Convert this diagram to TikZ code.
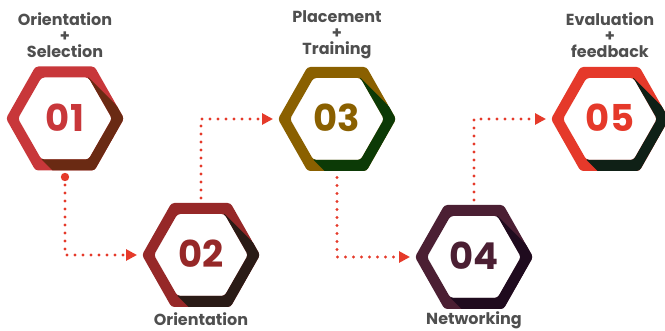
\documentclass[tikz,border=0pt]{standalone}
\usepackage{fontspec}
\setmainfont{Poppins}
\usetikzlibrary{arrows.meta}

\definecolor{ringA}{HTML}{C8373A}\definecolor{darkA}{HTML}{6A2A13}
\definecolor{ringB}{HTML}{962828}\definecolor{darkB}{HTML}{2A1B16}
\definecolor{ringC}{HTML}{8A6000}\definecolor{darkC}{HTML}{0C3A06}
\definecolor{ringD}{HTML}{4B1F33}\definecolor{darkD}{HTML}{1F0B1E}
\definecolor{ringE}{HTML}{E5392A}\definecolor{darkE}{HTML}{0F2016}
\definecolor{linkred}{HTML}{E53A2A}
\definecolor{labelgray}{HTML}{4F4F4F}

\tikzset{
  flow/.style={draw=linkred, line width=3.2pt, line cap=round,
    dash pattern=on 0pt off 8pt,
    -{Triangle[length=11pt,width=11pt,fill=linkred]}},
  steplabel/.style={align=center, text=labelgray, inner sep=0pt,
    font=\bfseries\fontsize{16}{16}\selectfont},
  stepnum/.style={inner sep=0pt, font=\bfseries\fontsize{37}{37}\selectfont},
}

\begin{document}
\begin{tikzpicture}[x=1pt,y=-1pt]
\useasboundingbox (0,0) rectangle (665,331);
\clip (0,0) rectangle (665,331);

% hexagonal rings with a diagonal shadow on the lower right
\foreach \cx/\cy/\rc/\dc/\num/\nm in {
    65/118.5/ringA/darkA/01/h1,
    201/255/ringB/darkB/02/h2,
    337/119/ringC/darkC/03/h3,
    474/257/ringD/darkD/04/h4,
    610/119/ringE/darkE/05/h5}{
  \begin{scope}[shift={(\cx,\cy)}]
    \fill[\rc, even odd rule, rounded corners=3pt]
      (59,0) -- (29.5,-52) -- (-29.5,-52) -- (-59,0) -- (-29.5,52) -- (29.5,52) -- cycle
      (47,0) -- (23.5,-41) -- (-23.5,-41) -- (-47,0) -- (-23.5,41) -- (23.5,41) -- cycle;
    \begin{scope}
      \clip (23.5,-41) -- (123.5,59) -- (76.5,141) -- (-23.5,41) -- cycle;
      \fill[\dc, even odd rule, rounded corners=3pt]
        (59,0) -- (29.5,-52) -- (-29.5,-52) -- (-59,0) -- (-29.5,52) -- (29.5,52) -- cycle
        (47,0) -- (23.5,-41) -- (-23.5,-41) -- (-47,0) -- (-23.5,41) -- (23.5,41) -- cycle;
    \end{scope}
    \node[stepnum, text=\rc] (\nm) at (0,-1) {\num};
    \coordinate (\nm-top) at (0,-57);
    \coordinate (\nm-bot) at (0,58.5);
    \coordinate (\nm-left) at (-64,0);
  \end{scope}
}

% step captions
\node[steplabel] (t1) at (65,35) {Orientation\\+\\Selection};
\node[steplabel, anchor=base] (t2) at (201,326) {Orientation};
\node[steplabel] (t3) at (337,35) {Placement\\+\\Training};
\node[steplabel, anchor=base] (t4) at (474,325) {Networking};
\node[steplabel] (t5) at (610,35) {Evaluation\\+\\feedback};

% dotted links between the steps
\fill[linkred] (h1-bot) circle (4.2pt);
\draw[flow] (h1-bot) |- (h2-left);
\draw[flow] (h2-top) |- (h3-left);
\draw[flow] (h3-bot) |- (h4-left);
\draw[flow] (h4-top) |- (h5-left);
\end{tikzpicture}
\end{document}
